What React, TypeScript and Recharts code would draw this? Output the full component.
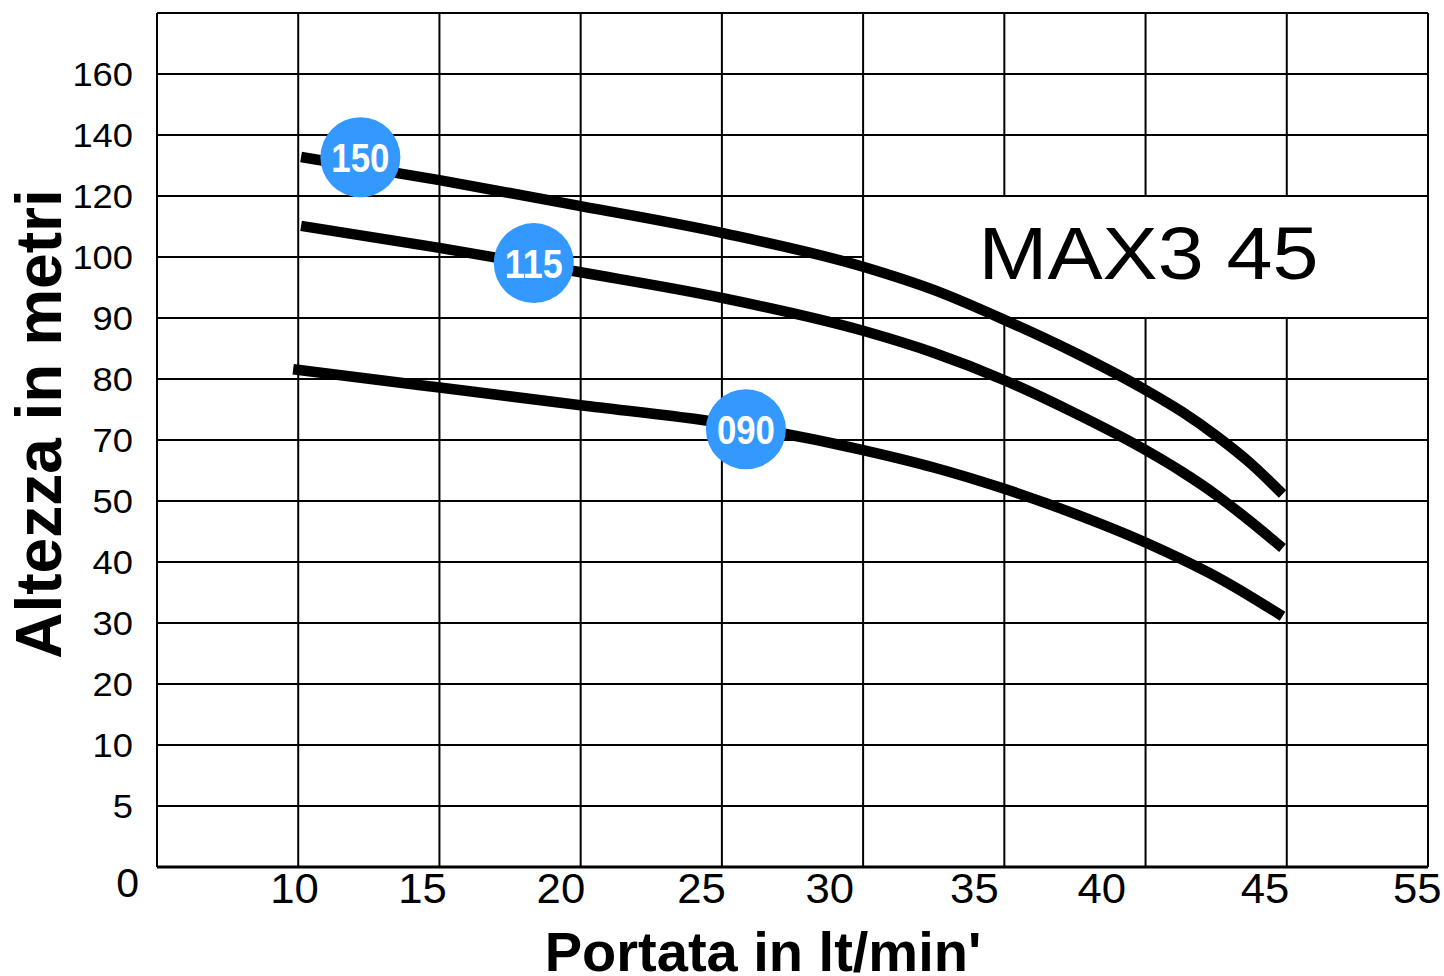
import React from 'react';
import {
  ComposedChart,
  Line,
  XAxis,
  YAxis,
  CartesianGrid,
  ReferenceLine,
  ReferenceArea,
  ReferenceDot,
} from 'recharts';

// ---------- data ----------
// y axis tick labels (metres) – evenly spaced on the chart (note: 60 is missing)
const yTickValues = [0, 5, 10, 20, 30, 40, 50, 70, 80, 90, 100, 120, 140, 160];
// vertical grid positions (l/min)
const xGridTicks = [5, 10, 15, 20, 25, 30, 35, 40, 45, 50];
// where the x tick labels sit, and their texts
const xLabelTicks = [9.87, 14.4, 19.3, 24.28, 28.82, 33.94, 38.45, 44.23, 49.62];
const xLabels = ['10', '15', '20', '25', '30', '35', '40', '45', '55'];

const flow150 = [10.1, 15, 20, 25, 30, 32.5, 35, 37.5, 40, 41.3, 42.5, 43.7, 44.85];
const head150 = [132.8, 125.2, 116.7, 107.9, 98.4, 94.6, 89.7, 84.3, 78.2, 74.6, 70.7, 62.5, 52.3];

const flow115 = [10.1, 15, 20, 25, 30, 32.5, 35, 37.5, 40, 41.3, 42.5, 43.7, 44.85];
const head115 = [110.2, 103.0, 97.5, 93.3, 87.9, 84.3, 79.8, 74.4, 66.7, 59.5, 52.0, 46.7, 42.3];

const flow090 = [9.82, 15, 20, 25, 30, 32.5, 35, 37.5, 40, 41.3, 42.5, 43.7, 44.85];
const head090 = [81.6, 78.6, 75.7, 72.8, 66.7, 61.0, 54.0, 47.9, 43.2, 40.4, 37.6, 34.4, 31.1];

const badgeNames = ['150', '115', '090'];
const badgeFlow = [12.2, 18.34, 25.85];
const badgeHead = [132.7, 99.0, 71.75];

const chartTitle = 'MAX3 45';
const yTitle = 'Altezza in metri';
const xTitle = "Portata in lt/min'";

// ---------- helpers ----------
const FONT = '"Liberation Sans", Arial, Helvetica, sans-serif';
const BADGE_BLUE = '#3399ff';
const X_DOMAIN: [number, number] = [5, 50];

// the y axis is evenly spaced by tick index: map metres -> tick index
function toIdx(m: number): number {
  for (let i = 0; i < yTickValues.length - 1; i++) {
    const a = yTickValues[i];
    const b = yTickValues[i + 1];
    if (m <= b) return i + (m - a) / (b - a);
  }
  return yTickValues.length - 1;
}

const makeSeries = (flows: number[], heads: number[]) =>
  flows.map((x, i) => ({ x, y: toIdx(heads[i]) }));

const series150 = makeSeries(flow150, head150);
const series115 = makeSeries(flow115, head115);
const series090 = makeSeries(flow090, head090);

const yIdxTicks = yTickValues.map((_, i) => i);

// vertical grid lines at the 5 l/min steps, placed through the x axis scale
const verticalGen = (props: any) => {
  const xAxis = props && props.xAxis;
  if (xAxis && typeof xAxis.scale === 'function') {
    return xGridTicks.map((v) => xAxis.scale(v));
  }
  const off = props.offset;
  return xGridTicks.map(
    (v) => off.left + ((v - X_DOMAIN[0]) / (X_DOMAIN[1] - X_DOMAIN[0])) * off.width,
  );
};

// ---------- custom renderers ----------
const YTick = (props: any) => {
  const { x, y, payload } = props;
  const label = String(yTickValues[payload.value]);
  if (payload.value === 0) {
    return (
      <text x={x + 6} y={y} dy={30} textAnchor="end" fontSize={41} fontFamily={FONT} fill="#000">
        {label}
      </text>
    );
  }
  return (
    <text
      x={x}
      y={y}
      dy={12}
      textAnchor="end"
      fontSize={34}
      fontFamily={FONT}
      fill="#000"
      textLength={label.length * 20.2}
      lengthAdjust="spacingAndGlyphs"
    >
      {label}
    </text>
  );
};

const XTick = (props: any) => {
  const { x, y, payload } = props;
  let i = xLabelTicks.findIndex((v) => Math.abs(v - payload.value) < 1e-6);
  if (i < 0) i = 0;
  const label = xLabels[i];
  return (
    <text
      x={x}
      y={y}
      dy={36}
      textAnchor="middle"
      fontSize={42}
      fontFamily={FONT}
      fill="#000"
      textLength={label.length * 24.3}
      lengthAdjust="spacingAndGlyphs"
    >
      {label}
    </text>
  );
};

const YTitle = () => (
  <text
    x={61}
    y={424}
    transform="rotate(-90, 61, 424)"
    textAnchor="middle"
    fontSize={64}
    fontWeight="bold"
    fontFamily={FONT}
    fill="#000"
  >
    {yTitle}
  </text>
);

const XTitle = () => (
  <text x={763} y={971} textAnchor="middle" fontSize={56} fontWeight="bold" fontFamily={FONT} fill="#000">
    {xTitle}
  </text>
);

const TitleLabel = (props: any) => {
  const vb = props.viewBox || { x: 0, y: 0, width: 0, height: 0 };
  return (
    <text
      x={vb.x + vb.width / 2 + 3}
      y={vb.y + vb.height / 2 + 22}
      textAnchor="middle"
      fontSize={75}
      fontFamily={FONT}
      fill="#000"
      textLength={340}
      lengthAdjust="spacingAndGlyphs"
    >
      {chartTitle}
    </text>
  );
};

const makeBadge = (name: string) => (p: any) => (
  <g>
    <circle cx={p.cx} cy={p.cy} r={40} fill={BADGE_BLUE} />
    <text
      x={p.cx}
      y={p.cy}
      dy={14.5}
      textAnchor="middle"
      fontSize={41}
      fontWeight="bold"
      fontFamily={FONT}
      fill="#fff"
      textLength={58}
      lengthAdjust="spacingAndGlyphs"
    >
      {name}
    </text>
  </g>
);

const lineProps = {
  dataKey: 'y',
  type: 'monotone' as const,
  stroke: '#000',
  strokeWidth: 10.5,
  dot: false,
  activeDot: false,
  isAnimationActive: false,
};

export default function App() {
  return (
    <div style={{ position: 'absolute', left: 0, top: 0, width: 1444, height: 976, background: '#fff' }}>
      <ComposedChart width={1444} height={976} margin={{ top: 13, right: 16, bottom: 0, left: 0 }}>
        <XAxis
          type="number"
          dataKey="x"
          domain={X_DOMAIN}
          ticks={xLabelTicks}
          interval={0}
          axisLine={false}
          tickLine={false}
          tickSize={0}
          tickMargin={0}
          height={109}
          tick={<XTick />}
          label={<XTitle />}
          allowDataOverflow
        />
        <YAxis
          type="number"
          dataKey="y"
          domain={[0, 14]}
          ticks={yIdxTicks}
          interval={0}
          width={157}
          axisLine={false}
          tickLine={false}
          tickSize={0}
          tickMargin={24}
          tick={<YTick />}
          label={<YTitle />}
          allowDataOverflow
        />
        <CartesianGrid
          stroke="#000"
          strokeWidth={2}
          strokeOpacity={1}
          verticalCoordinatesGenerator={verticalGen}
        />
        <ReferenceArea
          x1={30}
          x2={50}
          y1={toIdx(90)}
          y2={toIdx(120)}
          fill="#fff"
          fillOpacity={1}
          stroke="#000"
          strokeWidth={2}
          label={<TitleLabel />}
        />
        <ReferenceLine x={5} stroke="#000" strokeWidth={2} />
        <ReferenceLine x={50} stroke="#000" strokeWidth={2} />
        <ReferenceLine y={14} stroke="#000" strokeWidth={2} />
        <ReferenceLine y={0} stroke="#000" strokeWidth={3} />
        <Line data={series150} {...lineProps} />
        <Line data={series115} {...lineProps} />
        <Line data={series090} {...lineProps} />
        {badgeNames.map((name, i) => (
          <ReferenceDot
            key={name}
            x={badgeFlow[i]}
            y={toIdx(badgeHead[i])}
            r={40}
            shape={makeBadge(name)}
          />
        ))}
      </ComposedChart>
    </div>
  );
}
